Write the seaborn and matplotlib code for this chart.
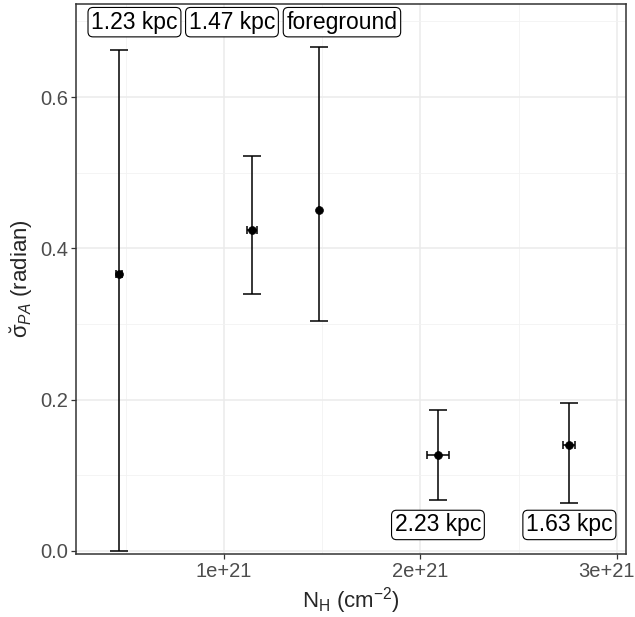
import numpy as np
import pandas as pd
import matplotlib
matplotlib.use('Agg')
import matplotlib.pyplot as plt
import matplotlib.transforms as mtransforms
import seaborn as sns

# values
nh = [0.466e21, 1.142e21, 1.483e21, 2.089e21, 2.756e21]
nh_err = [0.015e21, 0.025e21, 0.0, 0.056e21, 0.030e21]
sigma = [0.366, 0.424, 0.451, 0.127, 0.140]
sigma_lo = [0.000, 0.340, 0.304, 0.0675, 0.0635]
sigma_hi = [0.662, 0.522, 0.666, 0.186, 0.196]
labels = ['1.23 kpc', '1.47 kpc', 'foreground', '2.23 kpc', '1.63 kpc']
label_x = [0.5445e21, 1.0407e21, 1.6005e21, 2.089e21, 2.758e21]
label_y = [0.699, 0.699, 0.699, 0.0344, 0.0344]

df = pd.DataFrame({'nh': nh, 'sigma': sigma, 'lo': sigma_lo, 'hi': sigma_hi,
                   'nh_err': nh_err})

sns.set_style('white')
plt.rcParams['font.family'] = ['Liberation Sans', 'DejaVu Sans']
plt.rcParams['mathtext.fontset'] = 'custom'
plt.rcParams['mathtext.rm'] = 'Liberation Sans'
plt.rcParams['mathtext.it'] = 'Liberation Sans:italic'
plt.rcParams['mathtext.bf'] = 'Liberation Sans:bold'

fig = plt.figure(figsize=(6.35, 6.17), dpi=100)
ax = fig.add_axes([0.1197, 0.1021, 0.8661, 0.8914])

ax.set_xlim(0.247e21, 3.046e21)
ax.set_ylim(-0.004, 0.723)
ax.set_xticks([1e21, 2e21, 3e21])
ax.set_xticklabels(['1e+21', '2e+21', '3e+21'])
ax.set_xticks([0.5e21, 1.5e21, 2.5e21], minor=True)
ax.set_yticks([0.0, 0.2, 0.4, 0.6])
ax.set_yticklabels(['0.0', '0.2', '0.4', '0.6'])
ax.set_yticks([0.1, 0.3, 0.5, 0.7], minor=True)
ax.grid(True, which='major', color='#EBEBEB', lw=1.1)
ax.grid(True, which='minor', color='#F2F2F2', lw=0.6)
ax.set_axisbelow(True)

ax.errorbar(df['nh'], df['sigma'],
            yerr=[df['sigma'] - df['lo'], df['hi'] - df['sigma']],
            fmt='none', ecolor='black', elinewidth=1.1, capsize=6.5, capthick=1.1)
ax.errorbar(df['nh'], df['sigma'], xerr=df['nh_err'],
            fmt='none', ecolor='black', elinewidth=1.1, capsize=2.8, capthick=1.1)
sns.scatterplot(data=df, x='nh', y='sigma', color='black', s=32,
                edgecolor='black', linewidth=0.5, ax=ax, zorder=5)

for lx, ly, lab in zip(label_x, label_y, labels):
    ax.text(lx, ly, lab, ha='center', va='center', fontsize=16.5, color='black',
            bbox=dict(boxstyle='round,pad=0.14,rounding_size=0.22',
                      fc='white', ec='black', lw=0.8), zorder=6)

for s in ax.spines.values():
    s.set_color('#333333')
    s.set_linewidth(1.1)
ax.tick_params(which='major', length=3.5, width=0.9, color='#333333',
               labelsize=14.5, labelcolor='#4D4D4D', pad=2, bottom=True, left=True)
ax.tick_params(which='minor', length=0)

# last x tick label sits against the right edge, as in the reference
last = ax.get_xticklabels()[-1]
last.set_transform(last.get_transform() +
                   mtransforms.ScaledTranslation(-0.1, 0, fig.dpi_scale_trans))

ax.set_xlabel(r'N$_\mathrm{H}$ (cm$^{-2}$)', fontsize=16, labelpad=3)
ax.set_ylabel(r'$\breve{\mathrm{\sigma}}_{PA}$ (radian)', fontsize=16, labelpad=4)

fig.savefig('out.png', dpi=100)
